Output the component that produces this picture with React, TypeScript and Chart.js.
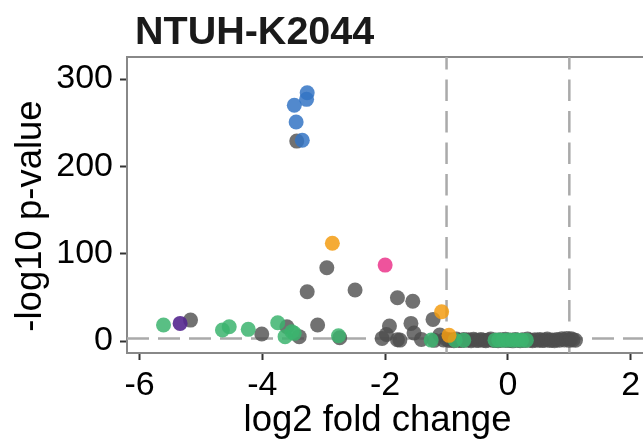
import { useEffect, useRef } from "react";
import { Chart, registerables } from "chart.js";

Chart.register(...registerables);

const titleText = "NTUH-K2044";
const xTitle = "log2 fold change";
const yTitle = "-log10 p-value";
const xTicks = [-6, -4, -2, 0, 2];
const yTicks = [0, 100, 200, 300];
const xRange = [-6.205, 2.2];
const yRange = [-13.7, 325.3];
const foldThresholds = [-1, 1];
const pThreshold = 3;

// [log2FC, -log10 p]
const bluePts = [
  [-3.27, 284.4], [-3.28, 276.8], [-3.48, 270], [-3.45, 250.9], [-3.35, 230],
];
const orangePts = [
  [-2.86, 112], [-1.08, 33.6], [-0.96, 6.5],
];
const pinkPts = [[-2.0, 87]];
const purplePts = [[-5.34, 20.2]];
const greenPts = [
  [-5.61, 18.3], [-4.65, 12.6], [-4.54, 16.4], [-4.23, 13.4], [-3.75, 21],
  [-3.52, 10.7], [-3.63, 5], [-3.48, 8.8], [-2.76, 6.1], [-1.25, 1.1],
  [-0.86, 1.0], [-0.72, 1.0], [-0.21, 1.0], [-0.15, 1.2], [-0.08, 0.9],
  [0.0, 1.1], [0.08, 1.0], [0.15, 1.2], [0.22, 0.9], [0.3, 1.0],
];
const grayPts = [
  [-3.44, 229], [-2.95, 84], [-3.27, 56.5], [-2.49, 58.4], [-1.8, 49.5],
  [-1.55, 45.5], [-5.17, 24], [-4.01, 8], [-3.6, 16.4], [-3.4, 5],
  [-3.1, 18.3], [-2.74, 3.8], [-1.93, 17.2], [-1.98, 7.5], [-1.8, 1.5],
  [-1.22, 24.8], [-1.58, 20.2], [-1.76, 1.1], [-1.53, 9.2], [-1.41, 1.9],
  [-1.11, 6.9], [-1.2, 0.8], [-2.05, 3.0],
  [-1.05, 1.2], [-1.0, 2.0], [-0.96, 0.6], [-0.92, 1.5], [-0.88, 0.4],
  [-0.84, 2.2], [-0.8, 1.0], [-0.76, 0.5], [-0.72, 1.8], [-0.68, 0.8],
  [-0.64, 1.4], [-0.6, 0.3], [-0.56, 2.1], [-0.52, 1.0], [-0.48, 0.6],
  [-0.44, 1.7], [-0.4, 0.9], [-0.36, 0.4], [-0.32, 1.3], [-0.28, 2.3],
  [-0.24, 0.7], [-0.2, 1.1], [-0.16, 0.3], [-0.12, 1.6], [-0.08, 0.8],
  [-0.04, 2.0], [0.0, 0.5], [0.04, 1.2], [0.08, 0.2], [0.12, 1.9],
  [0.16, 0.9], [0.2, 0.4], [0.24, 1.5], [0.28, 0.7], [0.32, 2.2],
  [0.36, 1.0], [0.4, 0.3], [0.44, 1.4], [0.48, 0.8], [0.52, 1.8],
  [0.56, 0.5], [0.6, 1.1], [0.64, 2.4], [0.68, 0.6], [0.72, 1.3],
  [0.76, 0.4], [0.8, 1.9], [0.84, 0.9], [0.88, 2.6], [0.92, 1.2],
  [0.96, 3.0], [1.0, 0.8], [1.03, 2.5], [1.06, 1.4], [1.1, 0.9],
];

const FONT = "'Liberation Sans', Arial, Helvetica, sans-serif";

const toXY = (arr: number[][]) => arr.map(([x, y]) => ({ x, y }));

const overlay = {
  id: "overlay",
  beforeDatasetsDraw(chart: any) {
    const { ctx, chartArea: a, scales } = chart;
    const x = scales.x;
    const y = scales.y;
    ctx.save();
    ctx.beginPath();
    ctx.rect(a.left, a.top, a.right - a.left, a.bottom - a.top);
    ctx.clip();
    ctx.strokeStyle = "#aaaaaa";
    ctx.lineWidth = 2.5;
    ctx.setLineDash([22, 9]);
    const py = y.getPixelForValue(pThreshold);
    ctx.beginPath();
    ctx.moveTo(a.left, py);
    ctx.lineTo(a.right, py);
    ctx.stroke();
    ctx.setLineDash([21.5, 10]);
    for (const v of foldThresholds) {
      const px = x.getPixelForValue(v);
      ctx.beginPath();
      ctx.moveTo(px, a.bottom);
      ctx.lineTo(px, a.top);
      ctx.stroke();
    }
    ctx.restore();
  },
  afterDraw(chart: any) {
    const { ctx } = chart;
    ctx.save();
    ctx.fillStyle = "#1a1a1a";
    ctx.font = `bold 39.5px ${FONT}`;
    ctx.textAlign = "left";
    ctx.textBaseline = "alphabetic";
    ctx.fillText(titleText, 135, 44);
    ctx.fillStyle = "#000000";
    ctx.font = `36.5px ${FONT}`;
    ctx.textAlign = "center";
    ctx.fillText(xTitle, 377.5, 431);
    ctx.translate(41, 216);
    ctx.rotate(-Math.PI / 2);
    ctx.fillText(yTitle, 0, 0);
    ctx.restore();
  },
};

export default function App() {
  const ref = useRef<HTMLCanvasElement | null>(null);
  useEffect(() => {
    if (!ref.current) return;
    const ds = (data: number[][], color: string) => ({
      data: toXY(data),
      backgroundColor: color,
      borderWidth: 0,
      pointRadius: 7.5,
      pointHoverRadius: 7.5,
    });
    const chart = new Chart(ref.current, {
      type: "scatter",
      data: {
        datasets: [
          ds(bluePts, "rgba(52,116,196,0.85)"),
          ds(pinkPts, "rgba(236,64,145,0.9)"),
          ds(purplePts, "rgba(84,39,143,0.9)"),
          ds(orangePts, "rgba(243,156,18,0.85)"),
          ds(greenPts, "rgba(60,180,110,0.85)"),
          ds(grayPts, "rgba(77,77,77,0.8)"),
        ],
      },
      options: {
        animation: false,
        responsive: false,
        devicePixelRatio: 1,
        layout: { autoPadding: false, padding: { top: 57, right: 0, bottom: 0, left: 0 } },
        plugins: { legend: { display: false }, tooltip: { enabled: false }, title: { display: false } },
        events: [],
        scales: {
          x: {
            type: "linear",
            position: "bottom",
            min: xRange[0],
            max: xRange[1],
            afterBuildTicks: (s: any) => {
              s.ticks = xTicks.map((v) => ({ value: v }));
            },
            afterFit: (s: any) => {
              s.height = 89;
            },
            ticks: {
              font: { family: FONT, size: 34, lineHeight: 1.5 },
              color: "#000000",
              padding: 0,
              maxRotation: 0,
              autoSkip: false,
            },
            grid: {
              display: true,
              drawOnChartArea: false,
              drawTicks: true,
              tickLength: 7,
              tickColor: "#333333",
              tickWidth: 2,
            },
            border: { display: true, color: "#888888", width: 2 },
          },
          xTop: {
            type: "linear",
            axis: "x",
            position: "top",
            min: xRange[0],
            max: xRange[1],
            afterFit: (s: any) => {
              s.height = 0;
            },
            ticks: { display: false },
            grid: { display: false, drawTicks: false },
            border: { display: true, color: "#888888", width: 2 },
          },
          y: {
            type: "linear",
            position: "left",
            min: yRange[0],
            max: yRange[1],
            afterBuildTicks: (s: any) => {
              s.ticks = yTicks.map((v) => ({ value: v }));
            },
            afterFit: (s: any) => {
              s.width = 127;
            },
            ticks: {
              font: { family: FONT, size: 34 },
              color: "#000000",
              padding: 7,
            },
            grid: {
              display: true,
              drawOnChartArea: false,
              drawTicks: true,
              tickLength: 7,
              tickColor: "#333333",
              tickWidth: 2,
            },
            border: { display: true, color: "#888888", width: 2 },
          },
        },
      },
      plugins: [overlay],
    } as any);
    return () => chart.destroy();
  }, []);
  return (
    <div style={{ position: "absolute", left: 0, top: 0, width: 643, height: 442, background: "#ffffff" }}>
      <canvas ref={ref} width={643} height={442} style={{ display: "block", width: 643, height: 442 }} />
    </div>
  );
}
